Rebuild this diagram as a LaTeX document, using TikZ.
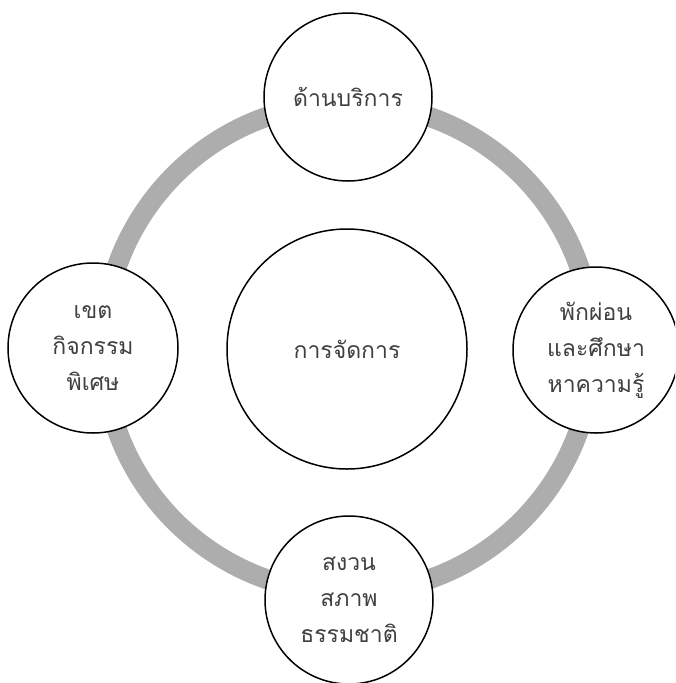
\documentclass[tikz,border=0pt]{standalone}
\usepackage{fontspec}
\newfontfamily\thaifont[Script=Thai]{Loma}
\begin{document}
\begin{tikzpicture}[x=1pt,y=-1pt,
  bub/.style={circle,draw=black,line width=1.5pt,fill=white,inner sep=0pt,
    font=\thaifont\fontsize{23}{36}\selectfont,text=black!75,align=center},
  ring/.style={draw=ringgray,line width=20pt}]
\definecolor{ringgray}{RGB}{173,173,173}
\useasboundingbox (0,0) rectangle (675,683);
\clip (0,0) rectangle (675,683);
\coordinate (c) at (348,348);
\draw[ring] (c) circle[radius=245];
\node[bub,minimum size=240pt] (center) at (347,349) {การจัดการ};
\node[bub,minimum size=168pt] (top) at (348,97) {ด้านบริการ};
\node[bub,minimum size=170pt] (left) at (93,348) {เขต\\กิจกรรม\\พิเศษ};
\node[bub,minimum size=166pt] (right) at (596,350) {พักผ่อน\\และศึกษา\\หาความรู้};
\node[bub,minimum size=168pt] (bottom) at (349,600) {สงวน\\สภาพ\\ธรรมชาติ};
\end{tikzpicture}
\end{document}
